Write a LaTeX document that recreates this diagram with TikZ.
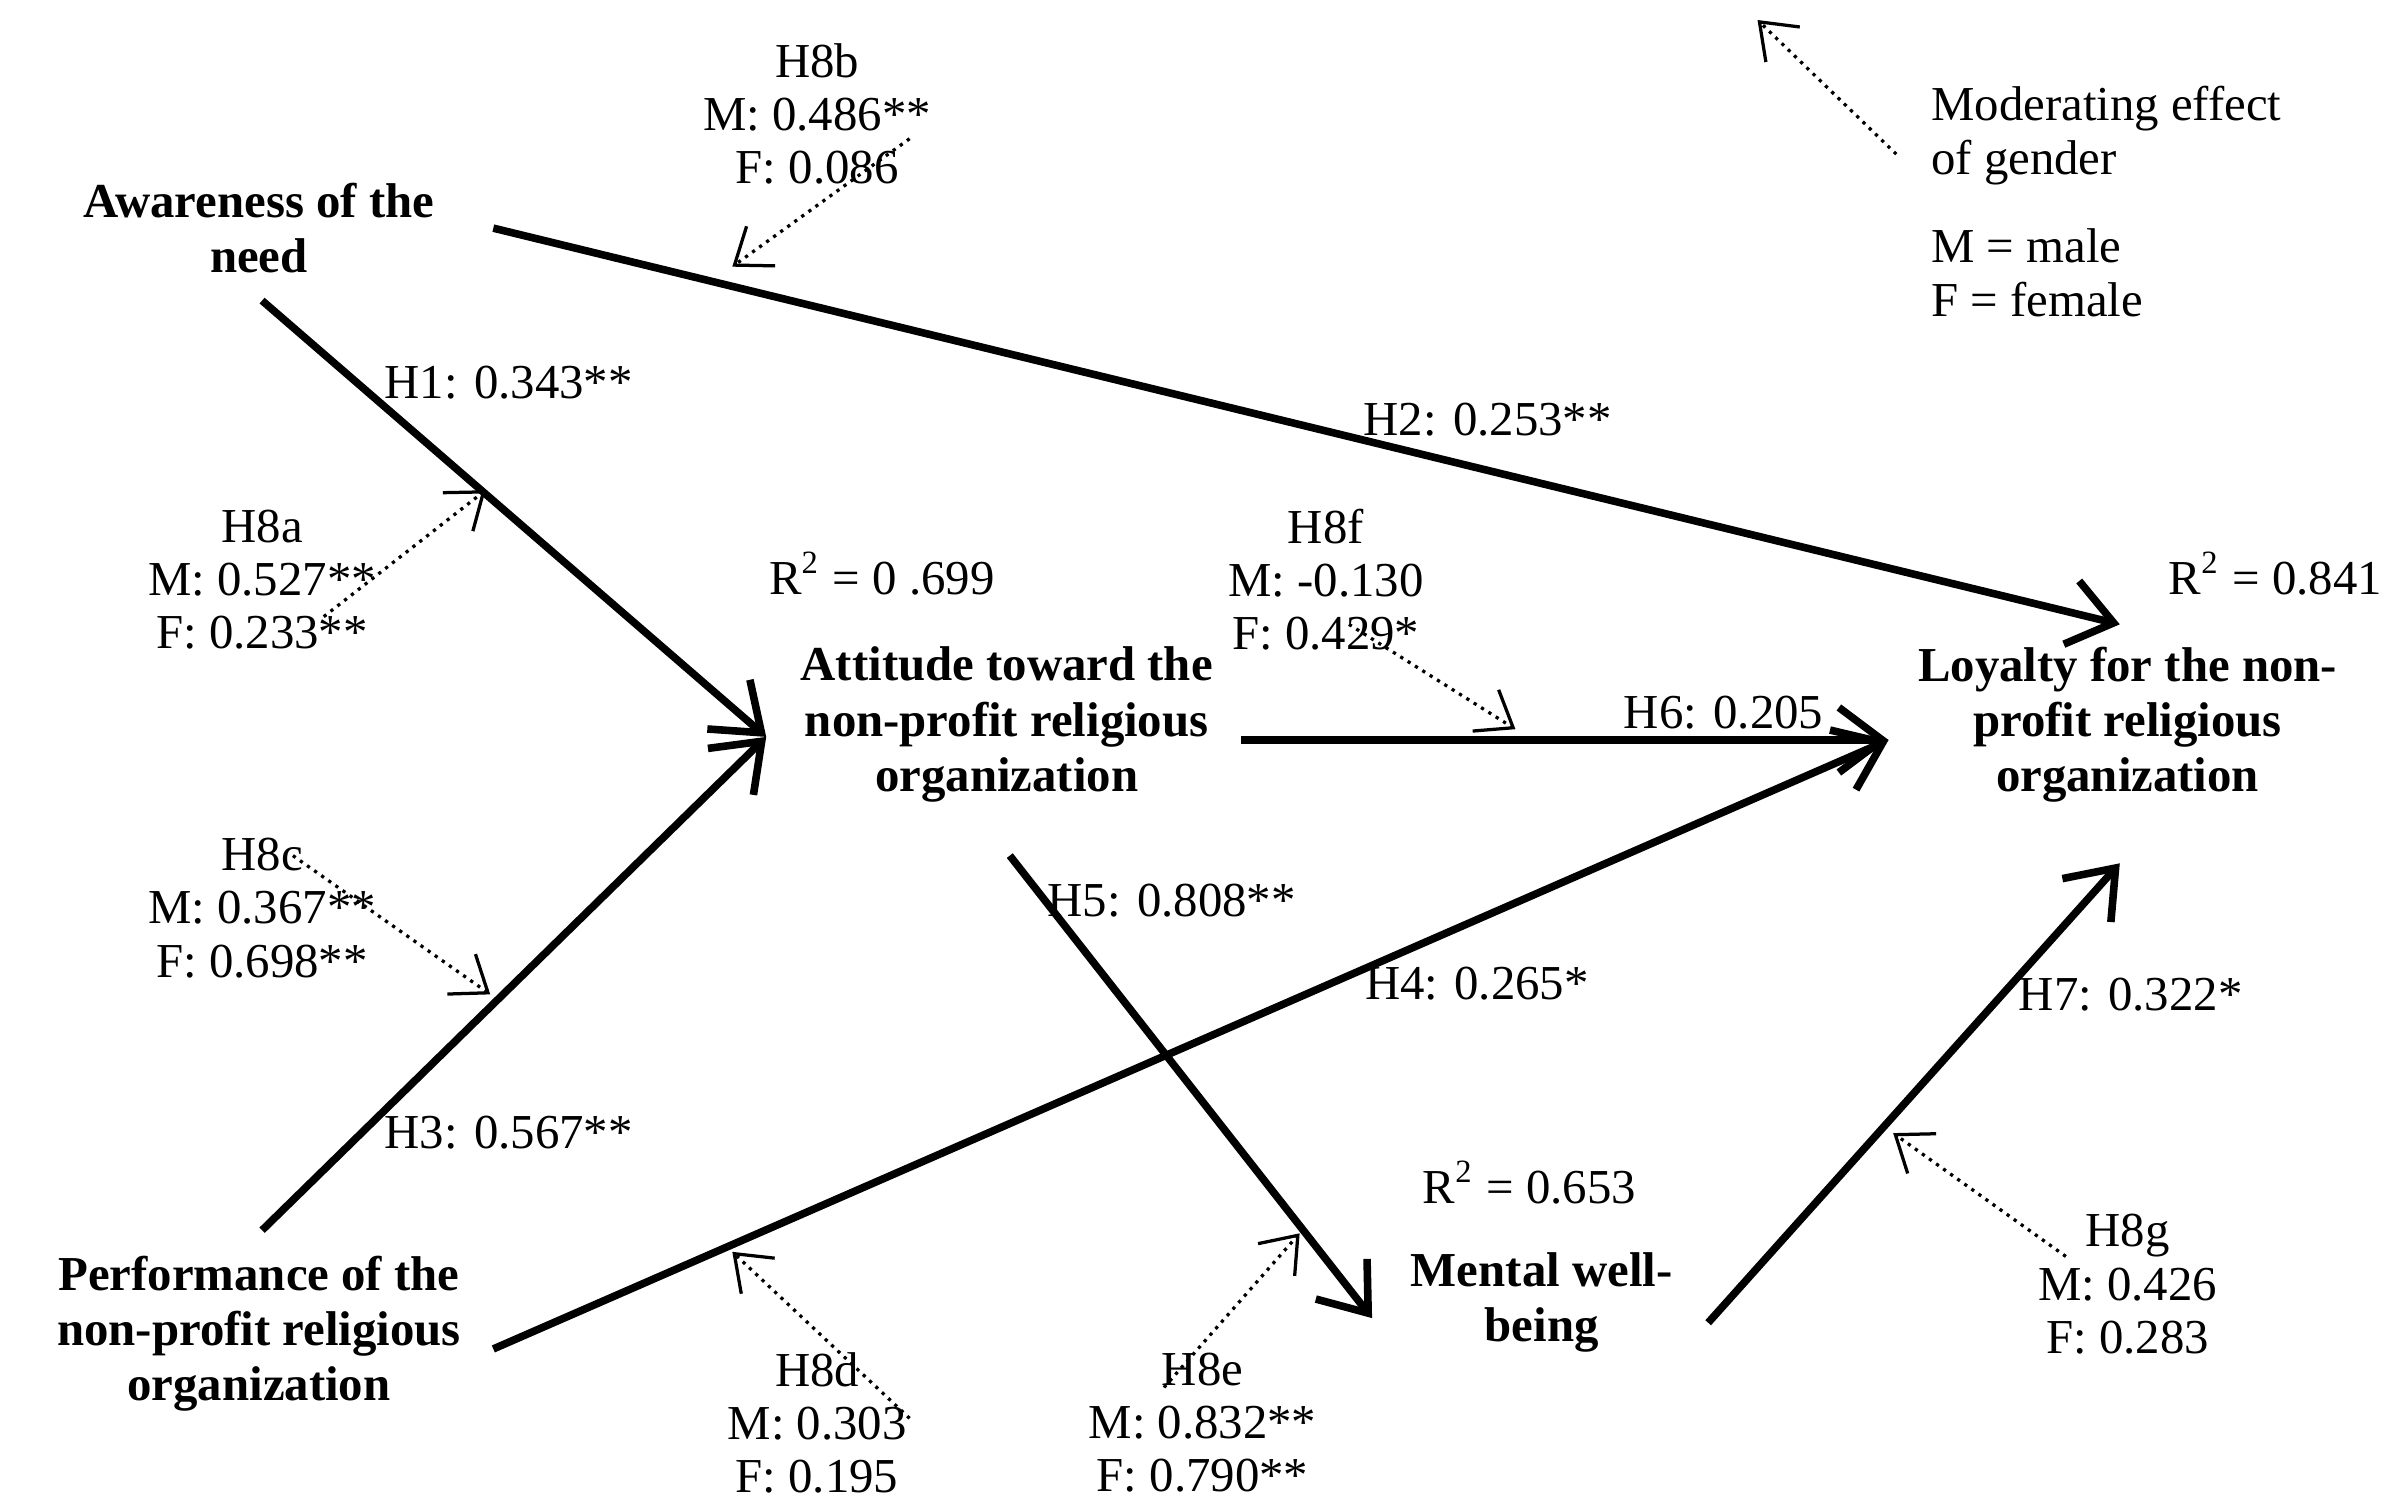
\documentclass[tikz,border=0pt]{standalone}
\usepackage{fontspec}
\setmainfont{Liberation Serif}
\usetikzlibrary{arrows.meta}
\begin{document}
\begin{tikzpicture}[x=0.01cm,y=-0.01cm,
  every node/.style={font=\fontsize{9}{9.8}\selectfont,inner sep=0pt},
  var/.style={font=\fontsize{9}{10.2}\selectfont\bfseries,align=center},
  lab/.style={align=center},
  main/.style={line width=1.4pt,-{Straight Barb[length=8pt,width=12pt,line width=1.4pt]}},
  mod/.style={densely dotted,line width=0.6pt,-{Straight Barb[length=6pt,width=9pt,line width=0.6pt]}}]
\useasboundingbox (0,0) rectangle (1560,980);
\node[var] (aw) at (168,148) {Awareness of the\\need};
\node[var] (at) at (653,470) {Attitude toward the\\non-profit religious\\organization};
\node[var] (lo) at (1380,470) {Loyalty for the non-\\profit religious\\organization};
\node[var] (pe) at (168,865) {Performance of the\\non-profit religious\\organization};
\node[var] (me) at (1000,845) {Mental well-\\being};
\coordinate (awR) at (320,148); \coordinate (awB) at (170,195);
\coordinate (atL) at (497,478); \coordinate (atR) at (805,480); \coordinate (atB) at (655,555);
\coordinate (loL) at (1225,480); \coordinate (loT) at (1375,405); \coordinate (loB) at (1375,560);
\coordinate (peT) at (170,798); \coordinate (peR) at (320,875);
\coordinate (meL) at (890,855); \coordinate (meR) at (1108,858);
\draw[main] (awR) -- (loT);
\draw[main] (awB) -- (atL);
\draw[main] (peT) -- (atL);
\draw[main] (atR) -- (loL);
\draw[main] (peR) -- (loL);
\draw[main] (atB) -- (meL);
\draw[main] (meR) -- (loB);
\node[lab] (h8b) at (530,74) {H8b\\M: 0.486**\\F: 0.086};
\node[lab] (h8a) at (170,376) {H8a\\M: 0.527**\\F: 0.233**};
\node[lab] (h8c) at (170,589) {H8c\\M: 0.367**\\F: 0.698**};
\node[lab] (h8f) at (860,376) {H8f\\M: -0.130\\F: 0.429*};
\node[lab] (h8d) at (530,923) {H8d\\M: 0.303\\F: 0.195};
\node[lab] (h8e) at (780,923) {H8e\\M: 0.832**\\F: 0.790**};
\node[lab] (h8g) at (1380,833) {H8g\\M: 0.426\\F: 0.283};
\coordinate (b1) at (590,90); \coordinate (b2) at (475,173);
\coordinate (a1) at (210,400); \coordinate (a2) at (315,318);
\coordinate (c1) at (190,555); \coordinate (c2) at (318,645);
\coordinate (f1) at (875,405); \coordinate (f2) at (983,473);
\coordinate (d1) at (590,920); \coordinate (d2) at (475,812);
\coordinate (e1) at (755,900); \coordinate (e2) at (843,800);
\coordinate (g1) at (1340,815); \coordinate (g2) at (1228,735);
\coordinate (l1) at (1230,100); \coordinate (l2) at (1140,13);
\draw[mod] (b1) -- (b2);
\draw[mod] (a1) -- (a2);
\draw[mod] (c1) -- (c2);
\draw[mod] (f1) -- (f2);
\draw[mod] (d1) -- (d2);
\draw[mod] (e1) -- (e2);
\draw[mod] (g1) -- (g2);
\draw[mod] (l1) -- (l2);
\node (h1) at (330,248) {H1: 0.343**};
\node (h2) at (965,272) {H2: 0.253**};
\node (h3) at (330,735) {H3: 0.567**};
\node (h4) at (958,638) {H4: 0.265*};
\node (h5) at (760,584) {H5: 0.808**};
\node (h6) at (1118,462) {H6: 0.205};
\node (h7) at (1382,645) {H7: 0.322*};
\node (r1) at (572,372) {R\textsuperscript{2} = 0 .699};
\node (r2) at (1476,372) {R\textsuperscript{2} = 0.841};
\node (r3) at (992,767) {R\textsuperscript{2} = 0.653};
\node[anchor=west,align=left] (lg) at (1252,88) {Moderating effect\\of gender};
\node[anchor=west,align=left] (lg2) at (1252,177) {M = male\\F = female};
\end{tikzpicture}
\end{document}
